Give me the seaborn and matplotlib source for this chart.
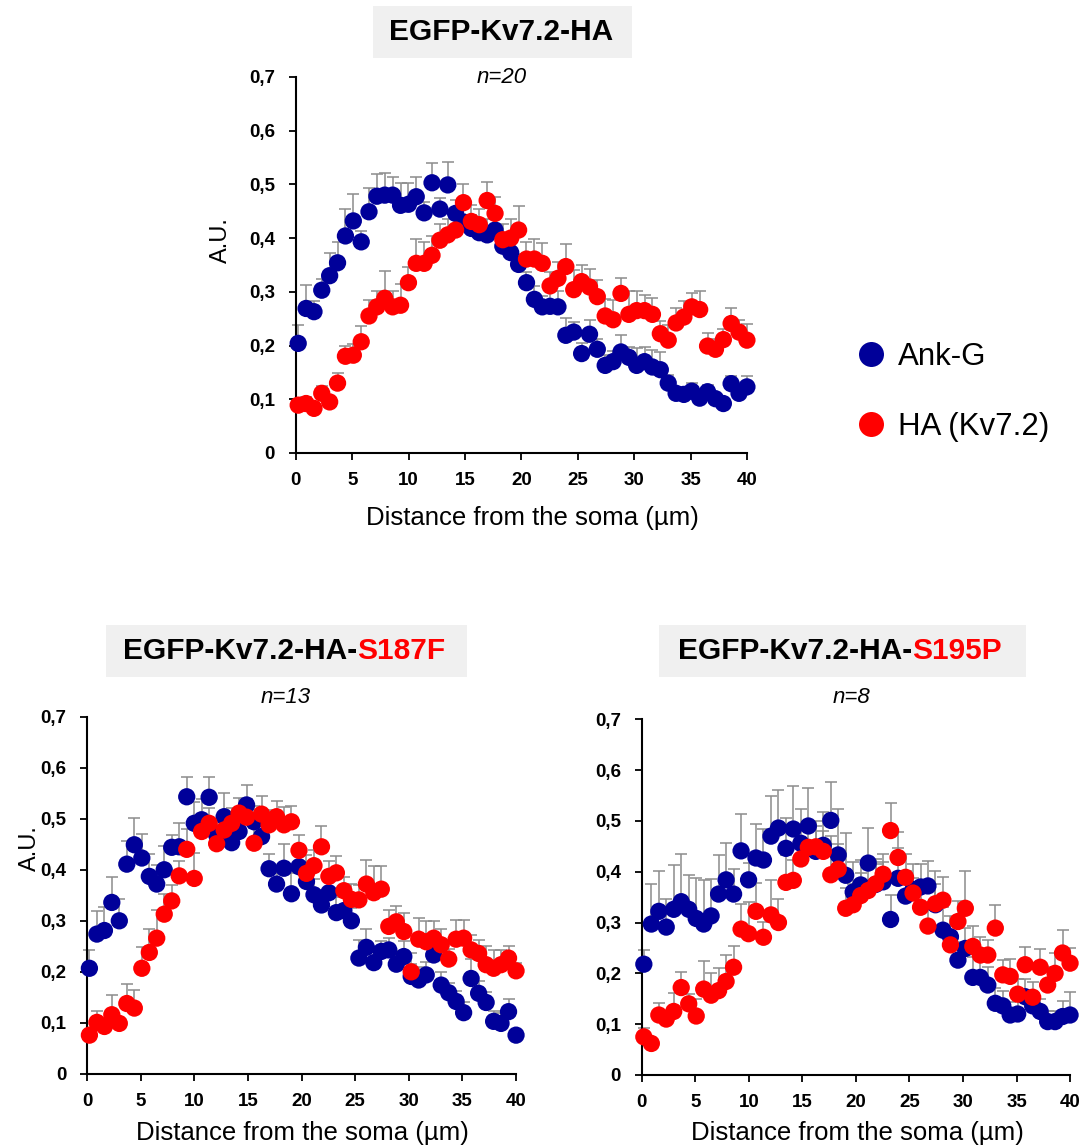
import numpy as np
import pandas as pd
import matplotlib
matplotlib.use("Agg")
import matplotlib.pyplot as plt
from matplotlib.lines import Line2D
from matplotlib.patches import Rectangle
import seaborn as sns

# ---------------------------------------------------------------- data
# Sampling positions along the axon (µm), 58 bins from the soma
distance = np.round(np.linspace(0.2, 40.0, 58), 2)

# EGFP-Kv7.2-HA (n=20)
wt_ankg = [0.204, 0.269, 0.263, 0.303, 0.330, 0.354, 0.404, 0.432, 0.393, 0.449,
           0.478, 0.480, 0.480, 0.461, 0.463, 0.477, 0.447, 0.503, 0.454, 0.499,
           0.446, 0.430, 0.418, 0.410, 0.406, 0.415, 0.385, 0.373, 0.351, 0.317,
           0.286, 0.272, 0.273, 0.272, 0.219, 0.225, 0.185, 0.221, 0.193, 0.163,
           0.170, 0.188, 0.178, 0.163, 0.170, 0.160, 0.155, 0.130, 0.111, 0.109,
           0.115, 0.102, 0.114, 0.101, 0.092, 0.129, 0.111, 0.123]
wt_ankg_sem = [0.034, 0.043, 0.020, 0.020, 0.042, 0.039, 0.050, 0.050, 0.020, 0.045,
               0.042, 0.042, 0.034, 0.042, 0.040, 0.037, 0.020, 0.036, 0.020, 0.042,
               0.025, 0.030, 0.025, 0.025, 0.030, 0.025, 0.025, 0.020, 0.020, 0.020,
               0.025, 0.020, 0.031, 0.030, 0.033, 0.019, 0.020, 0.027, 0.020, 0.020,
               0.020, 0.031, 0.020, 0.033, 0.027, 0.032, 0.033, 0.015, 0.012, 0.012,
               0.015, 0.010, 0.012, 0.010, 0.010, 0.014, 0.010, 0.020]
wt_ha = [0.089, 0.092, 0.083, 0.111, 0.095, 0.130, 0.180, 0.182, 0.207, 0.255,
         0.272, 0.288, 0.272, 0.275, 0.317, 0.353, 0.353, 0.368, 0.396, 0.406,
         0.415, 0.466, 0.431, 0.425, 0.470, 0.446, 0.397, 0.400, 0.415, 0.361,
         0.361, 0.353, 0.311, 0.325, 0.347, 0.304, 0.319, 0.309, 0.291, 0.255,
         0.248, 0.297, 0.258, 0.265, 0.265, 0.258, 0.222, 0.210, 0.242, 0.253,
         0.272, 0.267, 0.199, 0.193, 0.211, 0.241, 0.225, 0.210]
wt_ha_sem = [0.010, 0.012, 0.010, 0.013, 0.010, 0.018, 0.020, 0.020, 0.030, 0.030,
             0.030, 0.050, 0.030, 0.040, 0.030, 0.045, 0.040, 0.035, 0.030, 0.030,
             0.030, 0.035, 0.030, 0.030, 0.034, 0.030, 0.030, 0.035, 0.045, 0.032,
             0.037, 0.037, 0.025, 0.030, 0.042, 0.036, 0.030, 0.034, 0.031, 0.031,
             0.037, 0.028, 0.043, 0.037, 0.029, 0.031, 0.024, 0.028, 0.027, 0.030,
             0.025, 0.035, 0.025, 0.020, 0.020, 0.028, 0.022, 0.031]

# EGFP-Kv7.2-HA-S187F (n=13)
s187f_ankg = [0.207, 0.274, 0.281, 0.336, 0.300, 0.411, 0.449, 0.423, 0.387, 0.372,
              0.400, 0.444, 0.445, 0.543, 0.491, 0.498, 0.542, 0.468, 0.504, 0.453,
              0.475, 0.527, 0.494, 0.465, 0.402, 0.372, 0.403, 0.353, 0.406, 0.377,
              0.351, 0.331, 0.355, 0.316, 0.320, 0.300, 0.227, 0.248, 0.218, 0.240,
              0.243, 0.215, 0.230, 0.191, 0.184, 0.194, 0.233, 0.174, 0.159, 0.142,
              0.120, 0.187, 0.158, 0.140, 0.103, 0.099, 0.122, 0.076]
s187f_ankg_sem = [0.035, 0.046, 0.047, 0.050, 0.042, 0.046, 0.052, 0.048, 0.044, 0.038,
                  0.046, 0.025, 0.046, 0.039, 0.042, 0.040, 0.040, 0.030, 0.047, 0.030,
                  0.035, 0.039, 0.030, 0.030, 0.029, 0.030, 0.048, 0.040, 0.035, 0.030,
                  0.030, 0.030, 0.035, 0.030, 0.030, 0.025, 0.036, 0.035, 0.025, 0.020,
                  0.023, 0.025, 0.030, 0.025, 0.025, 0.025, 0.025, 0.025, 0.020, 0.020,
                  0.020, 0.039, 0.025, 0.020, 0.020, 0.020, 0.024, 0.010]
s187f_ha = [0.076, 0.101, 0.093, 0.116, 0.099, 0.138, 0.129, 0.207, 0.238, 0.266,
            0.313, 0.339, 0.388, 0.440, 0.383, 0.475, 0.491, 0.451, 0.478, 0.491,
            0.511, 0.503, 0.452, 0.509, 0.488, 0.504, 0.488, 0.494, 0.438, 0.393,
            0.408, 0.445, 0.387, 0.394, 0.359, 0.342, 0.341, 0.372, 0.355, 0.362,
            0.289, 0.298, 0.279, 0.200, 0.264, 0.259, 0.266, 0.253, 0.225, 0.264,
            0.266, 0.243, 0.236, 0.214, 0.207, 0.214, 0.227, 0.202]
s187f_ha_sem = [0.010, 0.022, 0.015, 0.039, 0.010, 0.038, 0.036, 0.041, 0.046, 0.056,
                0.040, 0.031, 0.030, 0.040, 0.049, 0.030, 0.030, 0.030, 0.035, 0.030,
                0.030, 0.035, 0.030, 0.035, 0.030, 0.030, 0.035, 0.030, 0.030, 0.035,
                0.030, 0.040, 0.030, 0.033, 0.027, 0.030, 0.030, 0.048, 0.052, 0.046,
                0.033, 0.031, 0.037, 0.037, 0.041, 0.041, 0.033, 0.031, 0.020, 0.038,
                0.035, 0.029, 0.027, 0.036, 0.035, 0.029, 0.023, 0.015]

# EGFP-Kv7.2-HA-S195P (n=8)
s195p_ankg = [0.218, 0.297, 0.322, 0.291, 0.326, 0.341, 0.326, 0.308, 0.297, 0.313,
              0.356, 0.384, 0.356, 0.441, 0.384, 0.427, 0.423, 0.470, 0.486, 0.446,
              0.484, 0.456, 0.490, 0.440, 0.452, 0.501, 0.433, 0.393, 0.360, 0.374,
              0.417, 0.375, 0.380, 0.306, 0.387, 0.352, 0.365, 0.370, 0.372, 0.335,
              0.285, 0.272, 0.226, 0.249, 0.192, 0.192, 0.177, 0.141, 0.136, 0.118,
              0.120, 0.154, 0.136, 0.125, 0.105, 0.105, 0.115, 0.118]
s195p_ankg_sem = [0.028, 0.079, 0.079, 0.055, 0.087, 0.094, 0.068, 0.079, 0.087, 0.073,
                  0.077, 0.073, 0.050, 0.072, 0.033, 0.066, 0.062, 0.079, 0.075, 0.059,
                  0.084, 0.067, 0.074, 0.060, 0.066, 0.075, 0.090, 0.084, 0.060, 0.050,
                  0.069, 0.050, 0.040, 0.048, 0.060, 0.050, 0.050, 0.045, 0.050, 0.040,
                  0.046, 0.040, 0.035, 0.040, 0.040, 0.040, 0.035, 0.030, 0.030, 0.025,
                  0.025, 0.034, 0.025, 0.025, 0.020, 0.020, 0.030, 0.046]
s195p_ha = [0.075, 0.062, 0.118, 0.110, 0.125, 0.172, 0.140, 0.116, 0.169, 0.157,
            0.166, 0.184, 0.212, 0.287, 0.278, 0.322, 0.271, 0.315, 0.300, 0.379,
            0.383, 0.425, 0.448, 0.449, 0.440, 0.394, 0.405, 0.328, 0.335, 0.353,
            0.363, 0.376, 0.395, 0.481, 0.428, 0.389, 0.358, 0.330, 0.293, 0.337,
            0.344, 0.256, 0.302, 0.328, 0.253, 0.236, 0.236, 0.289, 0.197, 0.194,
            0.159, 0.217, 0.153, 0.212, 0.177, 0.200, 0.240, 0.220]
s195p_ha_sem = [0.018, 0.010, 0.024, 0.010, 0.036, 0.030, 0.020, 0.033, 0.056, 0.044,
                0.044, 0.052, 0.041, 0.050, 0.062, 0.056, 0.030, 0.069, 0.046, 0.054,
                0.040, 0.040, 0.045, 0.040, 0.040, 0.077, 0.050, 0.040, 0.040, 0.045,
                0.050, 0.040, 0.040, 0.054, 0.050, 0.045, 0.030, 0.045, 0.040, 0.064,
                0.045, 0.040, 0.040, 0.074, 0.040, 0.035, 0.030, 0.046, 0.030, 0.035,
                0.030, 0.035, 0.030, 0.035, 0.035, 0.040, 0.046, 0.030]

series_names = ["Ank-G", "HA (Kv7.2)"]
x_ticks = [0, 5, 10, 15, 20, 25, 30, 35, 40]
y_ticks = [0, 0.1, 0.2, 0.3, 0.4, 0.5, 0.6, 0.7]
y_tick_labels = ["0", "0,1", "0,2", "0,3", "0,4", "0,5", "0,6", "0,7"]

# ---------------------------------------------------------------- style
BLUE = "#000099"
RED = "#ff0000"
GREY = "#8c8c8c"
palette = {series_names[0]: BLUE, series_names[1]: RED}

sns.set_style("ticks")
plt.rcParams["font.family"] = ["Liberation Sans", "DejaVu Sans"]
plt.rcParams.update({"text.color": "black", "axes.labelcolor": "black",
                     "xtick.color": "black", "ytick.color": "black"})

fig = plt.figure(figsize=(10.88, 11.47), dpi=100)


def draw_panel(ax, ankg, ankg_sem, ha, ha_sem, ylabel, ylabel_pos, xlabel_pos):
    df = pd.DataFrame({
        "distance": np.concatenate([distance, distance]),
        "value": np.concatenate([ankg, ha]),
        "sem": np.concatenate([ankg_sem, ha_sem]),
        "stain": [series_names[0]] * len(distance) + [series_names[1]] * len(distance),
    })
    # one-sided (upper) SEM bars behind the markers
    for name in series_names:
        sub = df[df["stain"] == name]
        ax.errorbar(sub["distance"], sub["value"],
                    yerr=[np.zeros(len(sub)), sub["sem"]],
                    fmt="none", ecolor=GREY, elinewidth=1.1, capsize=4,
                    capthick=1.1, zorder=2, clip_on=False)
    sns.scatterplot(data=df, x="distance", y="value", hue="stain",
                    palette=palette, s=155, linewidth=0, legend=False,
                    ax=ax, zorder=3, clip_on=False)
    ax.set_xlim(0, 40)
    ax.set_ylim(0, 0.7)
    ax.set_xticks(x_ticks)
    ax.set_xticklabels([str(t) for t in x_ticks], fontweight="bold", fontsize=13.5)
    ax.set_yticks(y_ticks)
    ax.set_yticklabels(y_tick_labels, fontweight="bold", fontsize=13.5)
    ax.tick_params(axis="both", direction="out", length=5, width=1.3,
                   color="black", labelcolor="black")
    ax.tick_params(axis="x", pad=9)
    ax.tick_params(axis="y", pad=10)
    for side in ("left", "bottom"):
        ax.spines[side].set_linewidth(1.5)
        ax.spines[side].set_color("black")
    sns.despine(ax=ax)
    ax.set_xlabel("Distance from the soma (µm)", fontsize=18.5, va="center")
    ax.xaxis.set_label_coords(*xlabel_pos)
    if ylabel:
        ax.set_ylabel("A.U.", fontsize=17, ha="center", va="center")
        ax.yaxis.set_label_coords(*ylabel_pos)
    else:
        ax.set_ylabel("")


ax_top = fig.add_axes([0.272, 0.6051, 0.4145, 0.3278])
ax_bl = fig.add_axes([0.0802, 0.0637, 0.3941, 0.3115])
ax_br = fig.add_axes([0.5898, 0.0628, 0.3937, 0.3101])

draw_panel(ax_top, wt_ankg, wt_ankg_sem, wt_ha, wt_ha_sem, True,
           (-0.166, 0.566), (0.525, -0.173))
draw_panel(ax_bl, s187f_ankg, s187f_ankg_sem, s187f_ha, s187f_ha_sem, True,
           (-0.134, 0.633), (0.503, -0.165))
draw_panel(ax_br, s195p_ankg, s195p_ankg_sem, s195p_ha, s195p_ha_sem, False,
           None, (0.503, -0.163))

# ---------------------------------------------------------------- titles
BOX = "#f0f0f0"
fig.add_artist(Rectangle((0.3426, 0.9494), 0.238, 0.0453, transform=fig.transFigure,
                         facecolor=BOX, edgecolor="none", zorder=0))
fig.add_artist(Rectangle((0.0974, 0.4100), 0.3315, 0.0451, transform=fig.transFigure,
                         facecolor=BOX, edgecolor="none", zorder=0))
fig.add_artist(Rectangle((0.6057, 0.4100), 0.3370, 0.0451, transform=fig.transFigure,
                         facecolor=BOX, edgecolor="none", zorder=0))

fig.text(0.4603, 0.9721, "EGFP-Kv7.2-HA", ha="center", va="center",
         fontsize=21.5, fontweight="bold")


def two_tone_title(x, y, base, mutation):
    t = fig.text(x, y, base, ha="left", va="center", fontsize=21.5, fontweight="bold")
    ax_top.annotate(mutation, xy=(1, 0), xycoords=t, ha="left", va="bottom",
                    fontsize=21.5, fontweight="bold", color=RED,
                    annotation_clip=False)


two_tone_title(0.1133, 0.4324, "EGFP-Kv7.2-HA-", "S187F")
two_tone_title(0.6230, 0.4324, "EGFP-Kv7.2-HA-", "S195P")

fig.text(0.4611, 0.9320, "n=20", ha="center", va="center", fontsize=16, style="italic")
fig.text(0.2629, 0.3919, "n=13", ha="center", va="center", fontsize=16, style="italic")
fig.text(0.7830, 0.3923, "n=8", ha="center", va="center", fontsize=16, style="italic")

# ---------------------------------------------------------------- legend
handles = [Line2D([], [], linestyle="none", marker="o", markersize=18,
                  markerfacecolor=palette[n], markeredgewidth=0) for n in series_names]
fig.legend(handles, series_names, loc="center left", bbox_to_anchor=(0.7862, 0.6582),
           frameon=False, fontsize=22.5, handlelength=1.0, handletextpad=0.36,
           labelspacing=1.29, borderpad=0, borderaxespad=0)

fig.savefig("out.png", dpi=100)
